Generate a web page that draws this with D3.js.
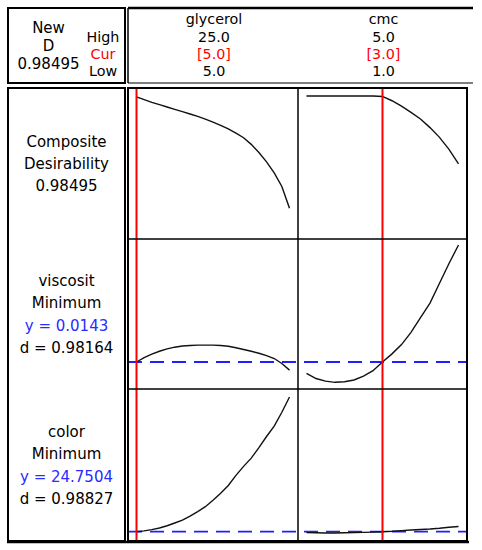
<!DOCTYPE html>
<html><head><meta charset="utf-8">
<script src="https://cdn.jsdelivr.net/npm/d3@7"></script>
<style>
body{margin:0;background:#fff}
svg{display:block}
text{font-family:"DejaVu Sans",sans-serif;font-size:15px}
text.hd{font-size:14.3px}
</style>
</head><body>
<svg id="c" width="482" height="550"></svg>
<script>
// ---------------- DATA ----------------
const factors = ["glycerol", "cmc"];
const highLabels = ["25.0", "5.0"];
const curLabels = ["[5.0]", "[3.0]"];
const lowLabels = ["5.0", "1.0"];
const factorLow = [5, 1];
const factorHigh = [25, 5];
const factorCur = [5, 3];

const glycerolX = [5,6,7,8,9,10,11,12,13,14,15,16,17,18,19,20,21,22,23,24,25];
const cmcX = [1,1.25,1.5,1.75,2,2.25,2.5,2.75,3,3.25,3.5,3.75,4,4.25,4.5,4.75,5];

const desirGlycerol = [0.985,0.978,0.971,0.965,0.959,0.953,0.947,0.941,0.935,0.928,0.920,0.912,0.903,0.892,0.880,0.863,0.842,0.818,0.790,0.755,0.699];
const desirCmc = [0.987,0.987,0.987,0.987,0.987,0.987,0.987,0.987,0.986,0.975,0.961,0.945,0.928,0.906,0.881,0.850,0.813];

const viscGlycerol = [0.0143,0.0158,0.0170,0.0180,0.0188,0.0194,0.0198,0.0200,0.0201,0.0201,0.0201,0.0200,0.0197,0.0192,0.0186,0.0180,0.0173,0.0165,0.0155,0.0138,0.0115];
const viscCmc = [0.0104,0.0086,0.0077,0.0073,0.0075,0.0081,0.0094,0.0113,0.0143,0.0171,0.0203,0.0245,0.0296,0.0346,0.0414,0.0482,0.0546];

const colorGlycerol = [24.75,24.86,25.02,25.24,25.55,25.92,26.30,26.85,27.45,28.10,28.95,29.90,30.95,32.30,33.50,34.60,36.00,37.50,38.90,40.75,42.80];
const colorCmc = [24.62,24.60,24.58,24.58,24.60,24.62,24.66,24.70,24.75,24.81,24.90,24.98,25.05,25.12,25.22,25.35,25.45];

const rowLabels = [
  ["Composite", "Desirability", "0.98495"],
  ["viscosit", "Minimum", "y = 0.0143", "d = 0.98164"],
  ["color", "Minimum", "y = 24.7504", "d = 0.98827"]
];
const rowYLine = [null, 0.0143, 24.7504];
const rowDomains = [[0.62, 1.0], [0.005, 0.057], [24, 44]];
const headerLeft = ["New", "D", "0.98495"];
const levelNames = ["High", "Cur", "Low"];

// ---------------- LAYOUT ----------------
const svg = d3.select("#c");
const LX0 = 8, LX1 = 125, PX0 = 128, PX1 = 467, COLDIV = 298;
const HY0 = 8, HY1 = 83;
const rowEdges = [88, 239, 389, 541];
const colEdges = [PX0, COLDIV, PX1];
const pad = 8.5;
const RED = "#ff0000", BLUE = "#1f1fff", BLUETXT = "#2b2bff";

const xScales = factors.map((f, i) =>
  d3.scaleLinear().domain([factorLow[i], factorHigh[i]]).range([colEdges[i] + pad, colEdges[i + 1] - pad]));
const yRanges = [[239, 91], [389, 238], [537.3, 388]];
const yScales = rowDomains.map((d, r) => d3.scaleLinear().domain(d).range(yRanges[r]));

const xs = [glycerolX, cmcX];
const series = [[desirGlycerol, desirCmc], [viscGlycerol, viscCmc], [colorGlycerol, colorCmc]];

// ---------------- HEADER ----------------
svg.append("rect").attr("x", LX0).attr("y", HY0).attr("width", LX1 - LX0).attr("height", HY1 - HY0)
  .attr("fill", "none").attr("stroke", "#000").attr("stroke-width", 2);
svg.append("line").attr("x1", PX0).attr("x2", 473).attr("y1", HY0).attr("y2", HY0).attr("stroke", "#000").attr("stroke-width", 2.5);
svg.append("line").attr("x1", PX0).attr("x2", PX0).attr("y1", HY0).attr("y2", HY1).attr("stroke", "#000").attr("stroke-width", 1.5);
svg.append("line").attr("x1", PX0).attr("x2", 473).attr("y1", HY1).attr("y2", HY1).attr("stroke", "#000").attr("stroke-width", 1.2);

const hlY = [33, 51, 69];
headerLeft.forEach((t, i) => svg.append("text").attr("x", 48.5).attr("y", hlY[i]).attr("text-anchor", "middle").text(t));
const lvY = [42, 59, 76];
levelNames.forEach((t, i) => svg.append("text").attr("class", "hd").attr("x", 103).attr("y", lvY[i]).attr("text-anchor", "middle")
  .attr("fill", i === 1 ? RED : "#000").text(t));
factors.forEach((f, i) => {
  const cx = (colEdges[i] + colEdges[i + 1]) / 2 + 1;
  svg.append("text").attr("class", "hd").attr("x", cx).attr("y", 24).attr("text-anchor", "middle").text(f);
  svg.append("text").attr("class", "hd").attr("x", cx).attr("y", 42).attr("text-anchor", "middle").text(highLabels[i]);
  svg.append("text").attr("class", "hd").attr("x", cx).attr("y", 59).attr("text-anchor", "middle").attr("fill", RED).text(curLabels[i]);
  svg.append("text").attr("class", "hd").attr("x", cx).attr("y", 76).attr("text-anchor", "middle").text(lowLabels[i]);
});

// ---------------- LEFT LABELS ----------------
svg.append("rect").attr("x", LX0).attr("y", rowEdges[0]).attr("width", LX1 - LX0).attr("height", rowEdges[3] - rowEdges[0])
  .attr("fill", "none").attr("stroke", "#000").attr("stroke-width", 2);
rowLabels.forEach((lines, r) => {
  const mid = (rowEdges[r] + rowEdges[r + 1]) / 2;
  const lh = 22.3;
  const first = mid - (lines.length - 1) * lh / 2 + 5.5;
  lines.forEach((t, k) => {
    svg.append("text").attr("x", 66.5).attr("y", first + k * lh).attr("text-anchor", "middle")
      .attr("fill", t.startsWith("y =") ? BLUETXT : "#000").text(t);
  });
});

// ---------------- PANELS ----------------
const g = svg.append("g");
rowYLine.forEach((v, r) => {
  if (v === null) return;
  g.append("line").attr("x1", PX0).attr("x2", PX1).attr("y1", yScales[r](v)).attr("y2", yScales[r](v))
    .attr("stroke", BLUE).attr("stroke-width", 1.8).attr("stroke-dasharray", "14,8");
});
series.forEach((rowS, r) => {
  rowS.forEach((vals, c) => {
    const line = d3.line().x((d, i) => xScales[c](xs[c][i])).y(d => yScales[r](d));
    g.append("path").attr("d", line(vals)).attr("fill", "none").attr("stroke", "#111").attr("stroke-width", 1.4);
  });
});
factorCur.forEach((v, c) => {
  g.append("line").attr("x1", xScales[c](v)).attr("x2", xScales[c](v)).attr("y1", rowEdges[0]).attr("y2", rowEdges[3])
    .attr("stroke", RED).attr("stroke-width", 2);
});
[rowEdges[1], rowEdges[2]].forEach(y => g.append("line").attr("x1", PX0).attr("x2", PX1).attr("y1", y).attr("y2", y)
  .attr("stroke", "#000").attr("stroke-width", 1.5));
g.append("line").attr("x1", COLDIV).attr("x2", COLDIV).attr("y1", rowEdges[0]).attr("y2", rowEdges[3]).attr("stroke", "#000").attr("stroke-width", 1.5);
g.append("rect").attr("x", PX0).attr("y", rowEdges[0]).attr("width", PX1 - PX0).attr("height", rowEdges[3] - rowEdges[0])
  .attr("fill", "none").attr("stroke", "#000").attr("stroke-width", 2);
svg.append("line").attr("x1", LX0 - 1).attr("x2", PX1 + 2).attr("y1", 542).attr("y2", 542).attr("stroke", "#000").attr("stroke-width", 2.5);
</script>
</body></html>
